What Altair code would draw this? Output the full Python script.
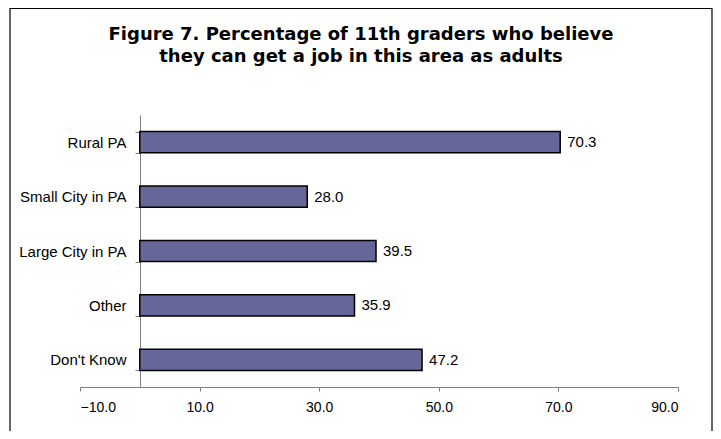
import altair as alt
import pandas as pd

categories = ["Rural PA", "Small City in PA", "Large City in PA", "Other", "Don't Know"]
values = [70.3, 28.0, 39.5, 35.9, 47.2]
x_ticks = [-10, 10, 30, 50, 70, 90]
title_lines = ["Figure 7. Percentage of 11th graders who believe",
               "they can get a job in this area as adults"]

df = pd.DataFrame({"category": categories, "value": values})

FONT = "Liberation Sans"

x_enc = alt.X("value:Q",
              scale=alt.Scale(domain=[-10, 90], nice=False, zero=False),
              axis=alt.Axis(values=x_ticks, format=".1f", title=None, grid=False,
                            domainColor="#808080", tickColor="#808080", tickSize=4,
                            labelFontSize=14, labelFont=FONT, labelColor="black",
                            labelPadding=9))
y_enc = alt.Y("category:N", sort=categories,
              scale=alt.Scale(paddingInner=0.61, paddingOuter=0.305),
              axis=alt.Axis(title=None, offset=-60, tickBand="extent",
                            domainColor="#808080", tickColor="#808080", tickSize=5,
                            labelFontSize=15, labelFont=FONT, labelColor="black",
                            labelPadding=9))

base = alt.Chart(df)
bars = base.mark_bar(color="#666699", stroke="black", strokeWidth=1.5).encode(x=x_enc, y=y_enc)
labels = base.mark_text(align="left", baseline="middle", dx=7, fontSize=15, font=FONT,
                        color="black").encode(
    x="value:Q", y=alt.Y("category:N", sort=categories),
    text=alt.Text("value:Q", format=".1f"))

border = alt.Chart(pd.DataFrame({"a": [0]})).mark_rect(
    fill=None, stroke="black", strokeWidth=1.2).encode(
    x=alt.value(-70), x2=alt.value(632), y=alt.value(-106.5), y2=alt.value(420))

chart = alt.layer(border, bars, labels).properties(
    width=598, height=272,
    padding={"left": 72, "top": 107, "right": 35, "bottom": 44},
    autosize=alt.AutoSizeParams(type="none"),
    background="white",
    title=alt.TitleParams(title_lines, font="DejaVu Sans", fontSize=18, fontWeight="bold",
                          color="black", anchor="middle", dx=-18, offset=-58,
                          lineHeight=22),
).configure_view(stroke=None)

chart.save("out.html", embed_options={"renderer": "svg", "actions": False})
